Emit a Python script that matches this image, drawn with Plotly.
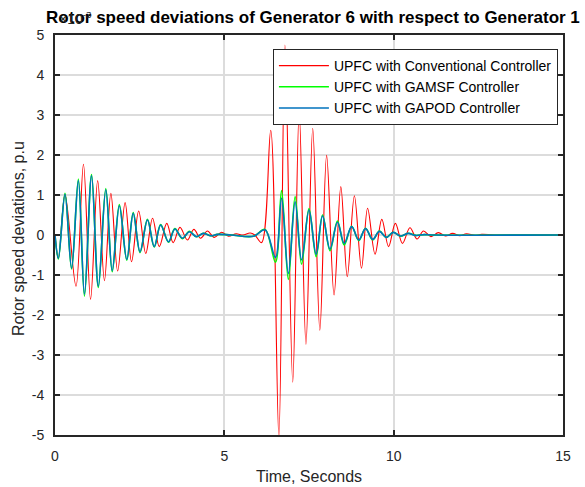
import plotly.graph_objects as go

# ---- data (values in units of 1e-3 p.u.) ----
red_t = [0, 0.10, 0.295, 0.62, 0.84, 1.05, 1.26, 1.46, 1.65, 1.85, 2.07, 2.26, 2.47, 2.68, 2.88, 3.08,
         3.30, 3.49, 3.69, 3.91, 4.10, 4.30, 4.50, 4.70, 4.92, 5.12, 5.35, 5.55, 5.76, 5.90, 6.10,
         6.37, 6.61, 6.79, 7.02, 7.21, 7.41, 7.61, 7.82, 8.02, 8.24, 8.44, 8.63, 8.84, 9.05, 9.23,
         9.45, 9.65, 9.85, 10.05, 10.26, 10.48, 10.69, 10.88, 11.10, 11.32, 11.53, 11.74, 11.95,
         12.15, 12.40, 12.60, 13.0, 15.0]
red_v = [0, -0.58, 1.02, -1.28, 1.77, -1.61, 1.36, -1.14, 1.04, -0.90, 0.81, -0.67, 0.60, -0.46, 0.42, -0.29,
         0.29, -0.19, 0.19, -0.125, 0.14, -0.08, 0.10, -0.06, 0.07, -0.03, 0.03, 0.0, 0.05, 0.0, -0.19,
         2.62, -5.05, 4.75, -3.68, 3.10, -2.73, 2.67, -2.38, 1.99, -1.50, 1.21, -1.04, 0.98, -0.83, 0.67,
         -0.48, 0.39, -0.29, 0.29, -0.21, 0.18, -0.10, 0.10, -0.04, 0.06, -0.025, 0.04, -0.02,
         0.03, -0.01, 0.015, 0.0, 0.0]

blue_t = [0, 0.10, 0.295, 0.49, 0.69, 0.87, 1.08, 1.28, 1.50, 1.69, 1.90, 2.12, 2.31, 2.51, 2.73, 2.93,
          3.12, 3.35, 3.54, 3.76, 3.97, 4.17, 4.38, 4.60, 4.80, 5.20, 5.86, 6.20, 6.51, 6.69, 6.89,
          7.09, 7.28, 7.50, 7.71, 7.90, 8.12, 8.34, 8.54, 8.76, 8.97, 9.17, 9.38, 9.58, 9.78, 9.99,
          10.20, 10.43, 10.65, 10.90, 11.20, 15.0]
blue_v = [0, -0.58, 1.02, -0.83, 1.36, -1.48, 1.48, -1.28, 1.13, -0.89, 0.73, -0.61, 0.54, -0.42, 0.375, -0.29,
          0.25, -0.17, 0.15, -0.08, 0.08, -0.04, 0.04, -0.02, 0.015, 0.0, -0.03, 0.13, -0.56, 0.92, -0.96,
          0.83, -0.625, 0.625, -0.48, 0.475, -0.35, 0.32, -0.21, 0.21, -0.125, 0.16, -0.11, 0.09, -0.06, 0.065,
          -0.025, 0.04, -0.01, 0.01, 0.0, 0.0]

green_t = blue_t
green_v = [0, -0.60, 1.04, -0.85, 1.40, -1.53, 1.51, -1.31, 1.16, -0.92, 0.76, -0.63, 0.56, -0.44, 0.39, -0.30,
           0.26, -0.18, 0.16, -0.09, 0.09, -0.045, 0.045, -0.02, 0.015, 0.0, -0.03, 0.14, -0.68, 1.11, -1.11,
           0.96, -0.73, 0.66, -0.54, 0.50, -0.39, 0.35, -0.25, 0.22, -0.14, 0.17, -0.12, 0.10, -0.06, 0.07,
           -0.03, 0.045, -0.01, 0.01, 0.0, 0.0]

series_names = ["UPFC with Conventional Controller", "UPFC with GAMSF Controller", "UPFC with GAPOD Controller"]
x_ticks = [0, 5, 10, 15]
x_ticklabels = ["0", "5", "10", "15"]
y_ticks = [-5, -4, -3, -2, -1, 0, 1, 2, 3, 4, 5]
y_ticklabels = ["-5", "-4", "-3", "-2", "-1", "0", "1", "2", "3", "4", "5"]

FONT = "Liberation Sans, Arial, sans-serif"
DARK = "#262626"

fig = go.Figure()
fig.add_trace(go.Scatter(x=red_t, y=red_v, mode="lines", name=series_names[0],
                         line=dict(color="#FF0000", width=1.1, shape="spline", smoothing=1.0)))
fig.add_trace(go.Scatter(x=green_t, y=green_v, mode="lines", name=series_names[1],
                         line=dict(color="#00FF00", width=1.6, shape="spline", smoothing=1.0)))
fig.add_trace(go.Scatter(x=blue_t, y=blue_v, mode="lines", name=series_names[2],
                         line=dict(color="#0072BD", width=1.6, shape="spline", smoothing=1.0)))

axis_common = dict(showline=True, linecolor=DARK, linewidth=2, mirror="ticks",
                   ticks="inside", ticklen=5, tickwidth=2, tickcolor=DARK,
                   showgrid=True, gridcolor="#dcdcdc", gridwidth=1.5, zeroline=False,
                   tickfont=dict(family=FONT, size=14, color=DARK))

fig.update_xaxes(range=[0, 15], tickvals=x_ticks, ticktext=x_ticklabels, ticklabelstandoff=7, **axis_common)
fig.update_yaxes(range=[-5, 5], tickvals=y_ticks, ticktext=y_ticklabels, ticklabelstandoff=6, **axis_common)

fig.update_layout(
    width=585, height=487,
    margin=dict(l=55, r=22, t=35, b=52),
    paper_bgcolor="white", plot_bgcolor="white",
    font=dict(family=FONT, color=DARK),
    title=dict(text="<b>Rotor speed deviations of Generator 6 with respect to Generator 1</b>",
               x=0.535, xanchor="center", y=1 - 17 / 487, yanchor="middle",
               font=dict(family=FONT, size=17, color="black")),
    showlegend=True,
    legend=dict(x=0.99, xanchor="right", y=0.965, yanchor="top",
                bgcolor="white", bordercolor=DARK, borderwidth=1,
                font=dict(family=FONT, size=14, color="black"),
                itemwidth=50, tracegroupgap=0),
    annotations=[
        dict(text="×10<sup>-3</sup>", xref="paper", yref="paper", x=0.004, y=1.0 + 17 / 400,
             xanchor="left", yanchor="middle", showarrow=False,
             font=dict(family=FONT, size=14, color=DARK)),
        dict(text="Time, Seconds", xref="paper", yref="paper", x=0.5, y=-41 / 400,
             xanchor="center", yanchor="middle", showarrow=False,
             font=dict(family=FONT, size=16, color=DARK)),
        dict(text="Rotor speed deviations, p.u", xref="paper", yref="paper", x=-37 / 508, y=0.49,
             xanchor="center", yanchor="middle", textangle=-90, showarrow=False,
             font=dict(family=FONT, size=16, color=DARK)),
    ],
)

fig.write_html("out.html")
